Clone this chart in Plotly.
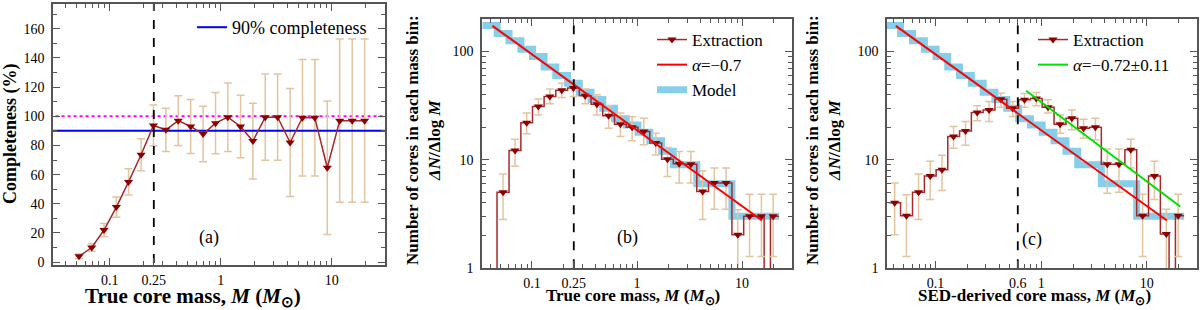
import math
import plotly.graph_objects as go

# ---------------- data ----------------
mass_bins = [0.041, 0.053, 0.069, 0.089, 0.115, 0.148, 0.192, 0.248, 0.321, 0.415,
             0.537, 0.695, 0.899, 1.16, 1.51, 1.95, 2.52, 3.26, 4.22, 5.45,
             7.05, 9.12, 11.8, 15.3, 19.8]

# panel (a): completeness vs true mass (bins 1..24)
completeness = [4, 10, 22, 37.7, 55, 73.6, 93.7, 90.7, 97, 93, 87.8, 95.3, 99.4, 93,
                83, 99.4, 99.4, 82, 99, 99, 64.7, 97, 97, 97]
completeness_err = [1.5, 2.5, 4.5, 7, 9, 11, 14, 14.8, 17, 18.5, 19, 21, 23.5, 21.5,
                    26, 29.6, 29.6, 37, 40, 40, 45.8, 56, 56, 56]

# panel (b): extraction vs true mass (bins 1..24)
ext_true = [5.0, 12.2, 22, 31, 38.4, 44, 46, 39, 32.6, 25.5, 21.3, 20, 18.3, 14.3,
            10.1, 9.2, 9.1, 5.1, 6.1, 6.1, 2.03, 3.0, 3.0, 3.0]
ext_true_hi = [7.4, 15.5, 27, 36.5, 45, 51, 52.8, 45, 39.8, 31.5, 27, 25, 24.2, 17.6,
               13, 11.9, 11.9, 7.9, 8.4, 8.4, 3.45, 4.8, 4.8, 4.8]
ext_true_lo = [2.8, 8.7, 17.4, 26, 32.9, 37.6, 38.4, 33, 26, 19.6, 16.4, 15, 13.8, 11.1,
               7, 6.1, 6.1, 2.8, 3.5, 3.5, 0.9, 1.28, 1.28, 1.28]

# panel (c): extraction vs SED-derived mass (bins 0..24)
ext_sed = [4.0, 3.04, 5.0, 7.1, 8.1, 16.4, 18.5, 27.3, 28.9, 36.3, 30, 35.8, 36.8,
           30.6, 21.3, 24.2, 19.6, 20, 9.1, 9.1, 12.4, 3.04, 7.1, 2.06, 3.04]
ext_sed_hi = [6.1, 4.75, 7.4, 9.7, 11, 20.3, 22.6, 31.5, 34.5, 41.2, 34.5, 41, 41.8,
              35.8, 26, 28.9, 23.7, 24.2, 12.6, 12.6, 15.5, 4.8, 9.7, 3.5, 4.8]
ext_sed_lo = [2.03, 1.28, 2.8, 4.3, 5.2, 12.8, 13.6, 23, 22.6, 30.6, 25.1, 30.6, 31.5,
              27, 17.6, 18.9, 15.8, 15.3, 4.9, 5.0, 8.4, 1.28, 4.3, 0.9, 1.28]

# model mass function (bins 0..24)
model_counts = [174, 147, 126, 105, 90, 72, 60, 51, 42, 36, 30, 24, 21, 18, 15, 12,
                9, 9, 6, 6, 6, 3, 3, 3, 3]

# power-law fits (end points)
fit_true_mass = [0.042, 15.5]
fit_true_val = [173, 2.75]
fit_sed_mass = [0.72, 20.7]
fit_sed_val = [43.4, 3.7]

mass_limit_true = 0.25
mass_limit_sed = 0.6
level_90 = 90
level_100 = 100

xtick_ab = [0.1, 0.25, 1, 10]
xtick_ab_text = ["0.1", "0.25", "1", "10"]
xtick_c = [0.1, 0.6, 1, 10]
xtick_c_text = ["0.1", "0.6", "1", "10"]
xminor = [0.03, 0.04, 0.05, 0.06, 0.07, 0.08, 0.09, 0.2, 0.3, 0.4, 0.5, 0.6, 0.7, 0.8,
          0.9, 2, 3, 4, 5, 6, 7, 8, 9, 20]
ylog_ticks = [1, 10, 100]
ylog_minor = [2, 3, 4, 5, 6, 7, 8, 9, 20, 30, 40, 50, 60, 70, 80, 90, 200]

# ---------------- styles ----------------
SERIF = "Liberation Serif"
DARKRED = "#8B0000"
HISTRED = "#A52A2A"
ERRCOL = "#E2C4A0"
SKY = "#87CEEB"
AXCOL = "#555555"
FLOOR = 0.3


def step_path(centers, values, start_floor=False, gap_last=False, extend_first=1.0):
    lg = [math.log10(c) for c in centers]
    mids = [(lg[i] + lg[i + 1]) / 2 for i in range(len(lg) - 1)]
    first = lg[0] - (mids[0] - lg[0]) * extend_first
    last = lg[-1] + (lg[-1] - mids[-1])
    edges = [first] + mids + [last]
    xs, ys = [], []
    if start_floor:
        xs.append(10 ** edges[0]); ys.append(FLOOR)
    n = len(values)
    for i, v in enumerate(values):
        left = edges[i]
        right = edges[i + 1]
        if gap_last and i == n - 2:
            right = edges[i + 1] - 0.03
            xs += [10 ** left, 10 ** right, 10 ** right]
            ys += [v, v, FLOOR]
            continue
        if gap_last and i == n - 1:
            left = edges[i] + 0.03
            xs += [10 ** left, 10 ** left, 10 ** right]
            ys += [FLOOR, v, v]
            continue
        xs += [10 ** left, 10 ** right]
        ys += [v, v]
    return xs, ys


fig = go.Figure()

# ---------------- panel (a) ----------------
ma = mass_bins[1:]
fig.add_trace(go.Scatter(x=[0.001, 1000], y=[level_100, level_100], mode="lines",
                         line=dict(color="#FF00FF", width=2, dash="dot"),
                         showlegend=False, xaxis="x", yaxis="y"))
fig.add_trace(go.Scatter(x=ma, y=completeness, mode="markers",
                         marker=dict(size=1, color="rgba(0,0,0,0)"),
                         error_y=dict(type="data", array=completeness_err, color=ERRCOL,
                                      thickness=1.5, width=4),
                         showlegend=False, xaxis="x", yaxis="y"))
fig.add_trace(go.Scatter(x=[0.001, 1000], y=[level_90, level_90], mode="lines",
                         line=dict(color="#0000FF", width=2), name="90% completeness",
                         legend="legend", xaxis="x", yaxis="y"))
fig.add_trace(go.Scatter(x=ma, y=completeness, mode="lines+markers",
                         line=dict(color=HISTRED, width=1.5),
                         marker=dict(symbol="triangle-down", size=8, color=DARKRED),
                         showlegend=False, xaxis="x", yaxis="y"))
fig.add_trace(go.Scatter(x=[mass_limit_true, mass_limit_true], y=[-50, 500], mode="lines",
                         line=dict(color="black", width=1.8, dash="dash"),
                         showlegend=False, xaxis="x", yaxis="y"))

# ---------------- panel (b) ----------------
mx, my = step_path(mass_bins, model_counts, extend_first=1.5)
hx, hy = step_path(mass_bins[1:], ext_true, start_floor=True, gap_last=True)
fig.add_trace(go.Scatter(x=[None], y=[None], mode="lines+markers", name="Extraction",
                         line=dict(color=HISTRED, width=1.5),
                         marker=dict(symbol="triangle-down", size=8, color=DARKRED),
                         legend="legend2", xaxis="x2", yaxis="y2"))
fig.add_trace(go.Scatter(x=[None], y=[None], mode="lines",
                         name="<i>α</i>=−0.7", line=dict(color="#FF0000", width=2),
                         legend="legend2", xaxis="x2", yaxis="y2"))
fig.add_trace(go.Scatter(x=mx, y=my, mode="lines", name="Model",
                         line=dict(color=SKY, width=7),
                         legend="legend2", xaxis="x2", yaxis="y2"))
fig.add_trace(go.Scatter(x=hx, y=hy, mode="lines", line=dict(color=HISTRED, width=1.5),
                         showlegend=False, xaxis="x2", yaxis="y2"))
fig.add_trace(go.Scatter(x=mass_bins[1:], y=ext_true, mode="markers",
                         marker=dict(symbol="triangle-down", size=8, color=DARKRED),
                         error_y=dict(type="data",
                                      array=[h - v for h, v in zip(ext_true_hi, ext_true)],
                                      arrayminus=[v - l for l, v in zip(ext_true_lo, ext_true)],
                                      color=ERRCOL, thickness=1.5, width=4),
                         showlegend=False, xaxis="x2", yaxis="y2"))
fig.add_trace(go.Scatter(x=fit_true_mass, y=fit_true_val, mode="lines",
                         line=dict(color="#FF0000", width=2),
                         showlegend=False, xaxis="x2", yaxis="y2"))
fig.add_trace(go.Scatter(x=[mass_limit_true, mass_limit_true], y=[0.1, 1000], mode="lines",
                         line=dict(color="black", width=1.8, dash="dash"),
                         showlegend=False, xaxis="x2", yaxis="y2"))

# ---------------- panel (c) ----------------
cx, cy = step_path(mass_bins, ext_sed, gap_last=True)
fig.add_trace(go.Scatter(x=[None], y=[None], mode="lines+markers", name="Extraction",
                         line=dict(color=HISTRED, width=1.5),
                         marker=dict(symbol="triangle-down", size=8, color=DARKRED),
                         legend="legend3", xaxis="x3", yaxis="y3"))
fig.add_trace(go.Scatter(x=[None], y=[None], mode="lines",
                         name="<i>α</i>=−0.72±0.11", line=dict(color="#00E000", width=2),
                         legend="legend3", xaxis="x3", yaxis="y3"))
fig.add_trace(go.Scatter(x=mx, y=my, mode="lines", line=dict(color=SKY, width=7),
                         showlegend=False, xaxis="x3", yaxis="y3"))
fig.add_trace(go.Scatter(x=cx, y=cy, mode="lines", line=dict(color=HISTRED, width=1.5),
                         showlegend=False, xaxis="x3", yaxis="y3"))
fig.add_trace(go.Scatter(x=mass_bins, y=ext_sed, mode="markers",
                         marker=dict(symbol="triangle-down", size=8, color=DARKRED),
                         error_y=dict(type="data",
                                      array=[h - v for h, v in zip(ext_sed_hi, ext_sed)],
                                      arrayminus=[v - l for l, v in zip(ext_sed_lo, ext_sed)],
                                      color=ERRCOL, thickness=1.5, width=4),
                         showlegend=False, xaxis="x3", yaxis="y3"))
fig.add_trace(go.Scatter(x=fit_true_mass, y=fit_true_val, mode="lines",
                         line=dict(color="#FF0000", width=2),
                         showlegend=False, xaxis="x3", yaxis="y3"))
fig.add_trace(go.Scatter(x=fit_sed_mass, y=fit_sed_val, mode="lines",
                         line=dict(color="#00E000", width=2),
                         showlegend=False, xaxis="x3", yaxis="y3"))
fig.add_trace(go.Scatter(x=[mass_limit_sed, mass_limit_sed], y=[0.1, 1000], mode="lines",
                         line=dict(color="black", width=1.8, dash="dash"),
                         showlegend=False, xaxis="x3", yaxis="y3"))

W, H = 1200, 310


def px_x(a, b):
    return [a / W, b / W]


def px_y(top, bottom):
    return [1 - bottom / H, 1 - top / H]


tickfont = dict(family=SERIF, size=14, color="black")
common_ax = dict(showline=True, linecolor=AXCOL, linewidth=1.5, mirror="ticks",
                 ticks="inside", ticklen=7, tickwidth=1.2, tickcolor=AXCOL,
                 showgrid=False, zeroline=False, tickfont=tickfont, automargin=False)
x_ax = dict(common_ax, ticklabelstandoff=1)
y_ax = dict(common_ax, ticklabelstandoff=4)

minor_x = dict(tickvals=xminor, ticks="inside", ticklen=4, tickwidth=1, tickcolor=AXCOL,
               showgrid=False)
minor_ylog = dict(tickvals=ylog_minor, ticks="inside", ticklen=4, tickwidth=1,
                  tickcolor=AXCOL, showgrid=False)

fig.update_layout(
    width=W, height=H, margin=dict(l=0, r=0, t=0, b=0),
    paper_bgcolor="white", plot_bgcolor="white",
    font=dict(family=SERIF, color="black"),
    xaxis=dict(type="log", range=[-1.51, 1.48], domain=px_x(53, 385), anchor="y",
               tickvals=xtick_ab, ticktext=xtick_ab_text, minor=minor_x, **x_ax),
    yaxis=dict(range=[-2, 177], domain=px_y(4, 265), anchor="x", dtick=20,
               tick0=0, minor=dict(dtick=10, ticks="inside", ticklen=4, tickwidth=1,
                                  tickcolor=AXCOL, showgrid=False), **y_ax),
    xaxis2=dict(type="log", range=[-1.476, 1.476], domain=px_x(482, 792), anchor="y2",
                tickvals=xtick_ab, ticktext=xtick_ab_text, minor=minor_x, **x_ax),
    yaxis2=dict(type="log", range=[0, math.log10(200)], domain=px_y(19, 268), anchor="x2",
                tickvals=ylog_ticks, ticktext=["1", "10", "100"], minor=minor_ylog,
                **y_ax),
    xaxis3=dict(type="log", range=[-1.46, 1.475], domain=px_x(887, 1197), anchor="y3",
                tickvals=xtick_c, ticktext=xtick_c_text, minor=minor_x, **x_ax),
    yaxis3=dict(type="log", range=[0, math.log10(200)], domain=px_y(19, 268), anchor="x3",
                tickvals=ylog_ticks, ticktext=["1", "10", "100"], minor=minor_ylog,
                **y_ax),
    legend=dict(x=192 / W, y=1 - 9 / H, xanchor="left", yanchor="top",
                bgcolor="rgba(0,0,0,0)", font=dict(family=SERIF, size=18)),
    legend2=dict(x=652 / W, y=1 - 22 / H, xanchor="left", yanchor="top",
                 bgcolor="rgba(0,0,0,0)", font=dict(family=SERIF, size=17)),
    legend3=dict(x=1033 / W, y=1 - 22 / H, xanchor="left", yanchor="top",
                 bgcolor="rgba(0,0,0,0)", font=dict(family=SERIF, size=17)),
)

ann = []
base = dict(xref="paper", yref="paper", showarrow=False, xanchor="center",
            yanchor="middle")
xt = "<b>True core mass, <i>M</i> (<i>M</i><sub>⊙</sub>)</b>"
ann.append(dict(text=xt, x=193 / W, y=1 - 297 / H, font=dict(family=SERIF, size=21),
                **base))
ann.append(dict(text=xt, x=633 / W, y=1 - 297 / H, font=dict(family=SERIF, size=17),
                **base))
ann.append(dict(text="<b>SED-derived core mass, <i>M</i> (<i>M</i><sub>⊙</sub>)</b>",
                x=1034 / W, y=1 - 297 / H, font=dict(family=SERIF, size=17), **base))
ann.append(dict(text="<b>Completeness (%)</b>", x=10 / W, y=1 - 134 / H, textangle=-90,
                font=dict(family=SERIF, size=18), **base))
yt = "<b>Number of cores in each mass bin:</b><br><b><i>ΔN</i>/Δlog <i>M</i></b>"
ann.append(dict(text=yt, x=423 / W, y=1 - 140 / H, textangle=-90,
                font=dict(family=SERIF, size=17), **base))
ann.append(dict(text=yt, x=823 / W, y=1 - 140 / H, textangle=-90,
                font=dict(family=SERIF, size=17), **base))
ann.append(dict(text="(a)", x=math.log10(0.785), y=17, xref="x", yref="y",
                showarrow=False, font=dict(family=SERIF, size=18)))
ann.append(dict(text="(b)", x=math.log10(0.815), y=math.log10(1.9), xref="x2", yref="y2",
                showarrow=False, font=dict(family=SERIF, size=18)))
ann.append(dict(text="(c)", x=math.log10(0.81), y=math.log10(1.85), xref="x3", yref="y3",
                showarrow=False, font=dict(family=SERIF, size=18)))
fig.update_layout(annotations=ann)

fig.write_html("out.html", config={"displayModeBar": False},
               post_script="document.body.style.margin='0';"
                           "document.body.style.overflow='hidden';")
